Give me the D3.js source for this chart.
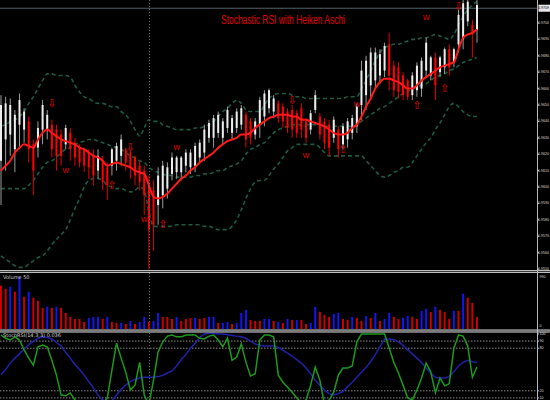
<!DOCTYPE html>
<html><head><meta charset="utf-8">
<script src="https://cdn.jsdelivr.net/npm/d3@7"></script>
<style>html,body{margin:0;padding:0;background:#000;overflow:hidden}svg{display:block}</style>
</head><body><svg id="c" width="550" height="400"></svg>
<script>
// ---- Heiken Ashi candles (price in 0.0001 units) ----
const haOpen=[9616,9629,9632,9623,9638,9635,9640,9626,9624,9635,9635,9638,9635,9632,9626,9633,9627,9624,9623,9621,9619,9610,9616,9612,9613,9616,9619,9623,9621,9618,9613,9610,9601,9598,9589,9595,9599,9608,9609,9609,9613,9612,9613,9618,9621,9630,9630,9633,9630,9636,9633,9636,9638,9644,9640,9632,9638,9643,9648,9646,9651,9649,9646,9647,9645,9648,9640,9635,9647,9643,9640,9638,9630,9635,9626,9629,9633,9637,9650,9656,9662,9665,9668,9671,9687,9674,9673,9668,9665,9656,9659,9660,9671,9668,9679,9670,9673,9684,9676,9687,9690,9701,9699,9696];
const haHigh=[9656,9655,9654,9647,9657,9648,9643,9629,9640,9653,9647,9641,9638,9635,9638,9636,9630,9626,9624,9623,9623,9623,9619,9615,9624,9627,9632,9624,9623,9619,9616,9613,9607,9604,9612,9616,9615,9621,9619,9619,9623,9623,9627,9629,9638,9641,9644,9646,9642,9649,9644,9648,9650,9646,9642,9642,9655,9659,9660,9656,9653,9651,9648,9650,9647,9651,9642,9647,9659,9645,9642,9641,9643,9637,9639,9642,9644,9651,9677,9680,9685,9685,9684,9688,9694,9677,9676,9670,9666,9670,9676,9679,9691,9680,9682,9680,9685,9687,9685,9708,9714,9714,9702,9714];
const haLow=[9589,9610,9619,9609,9623,9627,9615,9595,9618,9626,9629,9618,9610,9613,9623,9616,9613,9612,9609,9605,9601,9605,9598,9592,9607,9610,9613,9610,9605,9601,9598,9583,9550,9561,9577,9587,9593,9604,9605,9604,9609,9608,9609,9615,9616,9627,9624,9630,9626,9633,9629,9633,9635,9624,9626,9629,9630,9637,9645,9642,9639,9636,9633,9630,9630,9630,9627,9632,9645,9629,9623,9619,9627,9618,9623,9624,9629,9633,9641,9647,9655,9660,9663,9667,9659,9655,9654,9653,9653,9653,9655,9655,9667,9665,9653,9667,9669,9668,9673,9682,9684,9698,9679,9688];
const haClose=[9650,9651,9650,9644,9653,9646,9623,9610,9636,9650,9644,9623,9619,9619,9636,9623,9618,9615,9613,9612,9607,9619,9603,9601,9623,9625,9629,9615,9612,9607,9603,9595,9574,9577,9607,9613,9612,9618,9618,9618,9621,9621,9625,9627,9635,9639,9642,9644,9640,9647,9642,9646,9648,9629,9630,9640,9653,9657,9659,9654,9642,9640,9636,9635,9633,9635,9630,9645,9656,9632,9627,9624,9641,9623,9637,9640,9642,9649,9671,9677,9682,9682,9681,9686,9668,9659,9658,9656,9655,9668,9674,9677,9688,9679,9662,9679,9684,9673,9684,9705,9712,9713,9693,9711];
// ---- moving average and Bollinger bands ----
const maRed=[9610,9613,9616,9621,9624,9626,9625,9624,9629,9633,9635,9633,9631,9629,9628,9627,9626,9624,9623,9621,9619,9618,9616,9613,9614,9615,9614,9613,9612,9610,9609,9608,9601,9594,9593,9594,9596,9599,9602,9605,9607,9610,9612,9615,9617,9619,9621,9624,9626,9628,9629,9630,9632,9632,9633,9636,9638,9640,9642,9643,9644,9644,9644,9643,9643,9641,9641,9640,9639,9638,9637,9635,9633,9632,9632,9633,9636,9638,9643,9649,9654,9660,9664,9666,9666,9665,9664,9662,9660,9660,9662,9665,9667,9669,9671,9673,9674,9675,9676,9684,9691,9693,9694,9696];
const bbUpper=[9637,9638,9640,9641,9643,9646,9651,9655,9660,9665,9669,9669,9668,9668,9668,9667,9662,9658,9655,9654,9652,9651,9651,9650,9649,9649,9646,9644,9640,9635,9631,9636,9641,9640,9640,9638,9637,9636,9635,9635,9635,9635,9636,9636,9637,9638,9640,9643,9646,9648,9651,9653,9651,9647,9646,9646,9646,9650,9654,9656,9657,9657,9657,9656,9655,9655,9654,9654,9654,9654,9654,9654,9654,9654,9654,9655,9655,9655,9660,9665,9671,9677,9682,9685,9686,9687,9687,9688,9689,9690,9690,9691,9691,9692,9693,9692,9691,9690,9693,9699,9704,9708,9711,9713];
const bbMiddle=[9599,9599,9599,9599,9599,9599,9601,9604,9608,9612,9615,9616,9618,9621,9623,9624,9626,9627,9628,9629,9629,9628,9627,9626,9625,9624,9623,9621,9619,9618,9616,9615,9612,9610,9609,9608,9607,9607,9606,9606,9606,9606,9607,9607,9608,9608,9609,9610,9610,9612,9613,9614,9616,9620,9623,9624,9626,9627,9630,9633,9635,9636,9637,9638,9638,9638,9638,9638,9638,9638,9637,9637,9637,9637,9637,9637,9637,9638,9640,9642,9644,9646,9648,9649,9651,9653,9655,9657,9658,9660,9661,9662,9663,9665,9667,9668,9669,9671,9672,9674,9676,9677,9678,9679];
const bbLower=[9558,9556,9554,9552,9551,9551,9553,9555,9557,9558,9561,9565,9568,9571,9574,9580,9587,9593,9600,9604,9605,9605,9604,9601,9600,9599,9599,9598,9597,9598,9600,9598,9585,9576,9576,9576,9576,9576,9577,9577,9577,9577,9577,9577,9576,9576,9575,9574,9574,9574,9576,9580,9586,9593,9599,9603,9604,9604,9607,9611,9614,9618,9622,9624,9626,9626,9626,9626,9626,9624,9621,9619,9619,9619,9619,9619,9619,9619,9619,9616,9613,9610,9607,9606,9607,9609,9610,9612,9612,9615,9619,9623,9627,9630,9635,9639,9644,9649,9651,9649,9646,9644,9643,9643];
// ---- signal marks: [bar index, price, glyph] ----
const marks=[[11,9651,"⇩"],[14,9610,"W"],[28,9624,"⇩"],[24,9601,"⇧"],[31,9580,"W"],[35,9577,"⇧"],[38,9624,"W"],[63,9653,"⇩"],[66,9619,"W"],[74,9623,"⇧"],[77,9650,"W"],[90,9650,"⇧"],[96,9660,"⇧"],[92,9703,"W"],[99,9710,"⇩"]];
// ---- volumes: value and direction (1 = blue/up, 0 = red/down) ----
const volume=[817,760,798,703,990,608,703,589,532,399,418,399,418,399,304,228,190,190,133,209,228,228,190,228,133,114,114,95,152,95,133,228,133,152,304,228,228,190,228,152,190,209,209,190,209,228,228,114,114,133,95,114,304,361,171,152,152,190,190,152,133,114,190,171,171,171,95,114,418,323,266,228,285,304,190,171,228,209,152,247,209,304,152,190,304,228,190,209,247,228,190,342,380,323,418,361,323,190,342,342,665,589,494,228];
const volumeUp=[0,0,1,0,1,0,1,0,0,0,1,0,1,0,0,0,0,0,0,1,1,1,0,1,0,0,1,0,1,0,1,1,0,1,1,0,0,0,1,0,0,0,1,0,0,1,1,0,1,1,0,1,1,1,0,0,0,1,1,0,1,0,1,0,1,0,0,1,1,0,0,0,1,1,0,0,1,0,0,1,0,1,0,1,1,0,0,1,1,0,0,1,1,0,1,0,0,0,1,0,1,0,0,0];
// ---- Stochastic RSI ----
const stochK=[98.6,94,91.5,95.8,91.5,77.5,66,56,82,84.5,82,63,42,14,13,17,7,0,0,0,0,3,2,10,49,87,66,46,21,28,60,14,0,35,75,89,97,98.6,96,96,98.6,98.6,98.6,94,93,97,98.6,91.5,82,94,63,67.6,86,60,41,44,91.5,98.6,98.6,96,42,32,25,18,10,3,7,28,53.5,35,0,7,18,42,52,52,55,89,100,100,100,100,100,100,80,60,45,28,10,7,21,38,59,46.5,17,38,27,30,80,98.6,97,83,39,53.5];
const stochD=[43,50,59,66,72,79,85,90,94,96,95,93,88,83,74,66,57,50,42,33,24,14,7,4,6,14,22,28,33,36,38,39,39,39,40,42,45,48,55,64,71,80,87,95,100,101,101,100,100,99,98,97,96,94,90,86,84,83,83,83,81,77,73,69,64,59,52,44,35,28,21,16,14,16,19,26,32,39,46,53,61,71,82,93,93,92,89,84,78,72,66,60,52,45,39,38,38,40,47,55,60,63,61,60];
const stochLevels=[90,80,20,10];
const stochAxis=[100,90,80,20,10];
// ---- axis ----
const priceTicks=d3.range(9700,9549,-10);
const bidPrice=9709;
const volumeAxis=[990,0];
const title="Stochastic RSI with Heiken Aschi";
const volumeLabel="Volume 50";
const stochLabel="StochRSI(14,3,3) 0.036";

const svg=d3.select("#c");
const W=550,AX=537.5;
svg.append("rect").attr("width",W).attr("height",400).attr("fill","#000");
const x=d3.scaleLinear().domain([0,haOpen.length-1]).range([1,477]);
const y=d3.scaleLinear().domain([9700,9550]).range([23,269]);
const yv=d3.scaleLinear().domain([0,990]).range([329,276.5]);
const ys=d3.scaleLinear().domain([0,100]).range([405,334]);

const defs=svg.append("defs");
defs.append("clipPath").attr("id","cm").append("rect").attr("x",0).attr("y",0).attr("width",AX).attr("height",270);
defs.append("clipPath").attr("id","cs").append("rect").attr("x",0).attr("y",332).attr("width",AX).attr("height",68);

const main=svg.append("g").attr("clip-path","url(#cm)");
main.append("line").attr("x1",0).attr("x2",AX).attr("y1",y(bidPrice)).attr("y2",y(bidPrice)).attr("stroke","#4f5f66").attr("stroke-width",1.2);
const bandLine=arr=>d3.line().x((d,i)=>x(i)).y(d=>y(d)).curve(d3.curveMonotoneX)(arr);
[bbUpper,bbMiddle,bbLower].forEach(a=>{
  main.append("path").attr("d",bandLine(a)).attr("fill","none").attr("stroke","#1d5a3f").attr("stroke-width",1.6).attr("stroke-dasharray","4,3");
});
const idx=d3.range(haOpen.length);
const cg=main.append("g");
idx.forEach(i=>{
  const bull=haClose[i]>=haOpen[i];
  cg.append("line").attr("x1",x(i)).attr("x2",x(i)).attr("y1",y(haHigh[i])).attr("y2",y(haLow[i]))
    .attr("stroke",bull?"#9c9c9c":"#e00000").attr("stroke-width",1);
  const top=y(Math.max(haOpen[i],haClose[i])),bot=y(Math.min(haOpen[i],haClose[i]));
  cg.append("rect").attr("x",x(i)-1).attr("width",2).attr("y",top).attr("height",Math.max(1,bot-top))
    .attr("fill",bull?"#ececec":"#ff0000");
});
main.append("path").attr("d",d3.line().x((d,i)=>x(i)).y(d=>y(d)).curve(d3.curveMonotoneX)(maRed))
  .attr("fill","none").attr("stroke","#ff1a1a").attr("stroke-width",2);
main.selectAll("text.mk").data(marks).enter().append("text").attr("class","mk")
  .attr("x",d=>x(d[0])).attr("y",d=>y(d[1])).attr("text-anchor","middle").attr("dominant-baseline","central")
  .attr("fill","#e00000").attr("font-family","DejaVu Sans").attr("font-size",d=>d[2]==="W"?7:11).text(d=>d[2]);
svg.append("text").attr("x",283).attr("y",24).attr("text-anchor","middle").attr("fill","#e00000")
  .attr("font-family","Liberation Sans Narrow, Liberation Sans, Arial").attr("font-size",12)
  .attr("textLength",124).attr("lengthAdjust","spacingAndGlyphs").text(title);

svg.append("line").attr("x1",149.5).attr("x2",149.5).attr("y1",0).attr("y2",400).attr("stroke","#6a6a6a").attr("stroke-dasharray","1,2");

svg.append("g").selectAll("rect").data(volume).enter().append("rect")
  .attr("x",(d,i)=>x(i)-1).attr("width",2).attr("y",d=>yv(d)).attr("height",d=>yv(0)-yv(d))
  .attr("fill",(d,i)=>volumeUp[i]?"#1515ee":"#cc0000");
svg.append("text").attr("x",3).attr("y",279).attr("fill","#d0d0d0").attr("font-family","DejaVu Sans").attr("font-size",5).text(volumeLabel);

const sg=svg.append("g").attr("clip-path","url(#cs)");
stochLevels.forEach(l=>{
  sg.append("line").attr("x1",0).attr("x2",AX).attr("y1",ys(l)).attr("y2",ys(l)).attr("stroke","#8a8a8a").attr("stroke-dasharray","1.5,1.5");
});
const sl=d3.line().x((d,i)=>x(i)).y(d=>ys(d));
sg.append("path").attr("d",sl(stochD)).attr("fill","none").attr("stroke","#2020a8").attr("stroke-width",1.5);
sg.append("path").attr("d",sl(stochK)).attr("fill","none").attr("stroke","#1c9a1c").attr("stroke-width",1.5);
svg.append("text").attr("x",3).attr("y",337).attr("fill","#d0d0d0").attr("font-family","DejaVu Sans").attr("font-size",5).text(stochLabel);

[[270,273],[329.5,332.5]].forEach(([a,b])=>{
  svg.append("rect").attr("x",0).attr("y",a).attr("width",W).attr("height",b-a).attr("fill","#3a3a3a");
  svg.append("line").attr("x1",0).attr("x2",W).attr("y1",a+0.5).attr("y2",a+0.5).attr("stroke","#bdbdbd");
  svg.append("line").attr("x1",0).attr("x2",W).attr("y1",b-0.5).attr("y2",b-0.5).attr("stroke","#bdbdbd");
});

svg.append("line").attr("x1",AX).attr("x2",AX).attr("y1",0).attr("y2",400).attr("stroke","#b8b8b8");
const fmt=v=>(v/10000).toFixed(4);
const ag=svg.append("g").attr("font-family","Liberation Sans Narrow, Liberation Sans, Arial").attr("font-size",3.6).attr("fill","#d8d8d8");
const lbl=(g,yy,txt,fill,anchor)=>g.append("text").attr("x",anchor==="start"?AX+2:549).attr("y",yy)
  .attr("text-anchor",anchor||"end").attr("dominant-baseline","central")
  .attr("fill",fill||"#d8d8d8").text(txt);
priceTicks.forEach(t=>{
  ag.append("line").attr("x1",AX).attr("x2",AX+1.5).attr("y1",y(t)).attr("y2",y(t)).attr("stroke","#b8b8b8");
  lbl(ag,y(t),fmt(t));
});
ag.append("rect").attr("x",AX+1).attr("y",y(bidPrice)-3.5).attr("width",11.5).attr("height",7).attr("fill","#e8e8e8");
lbl(ag,y(bidPrice),fmt(bidPrice),"#000");
volumeAxis.forEach(t=>{
  lbl(ag,t?yv(t):326,String(t),null,"start");
});
stochAxis.forEach(t=>{
  ag.append("line").attr("x1",AX).attr("x2",AX+1.5).attr("y1",ys(t)).attr("y2",ys(t)).attr("stroke","#b8b8b8");
  lbl(ag,ys(t),String(t),null,"start");
});
</script></body></html>
